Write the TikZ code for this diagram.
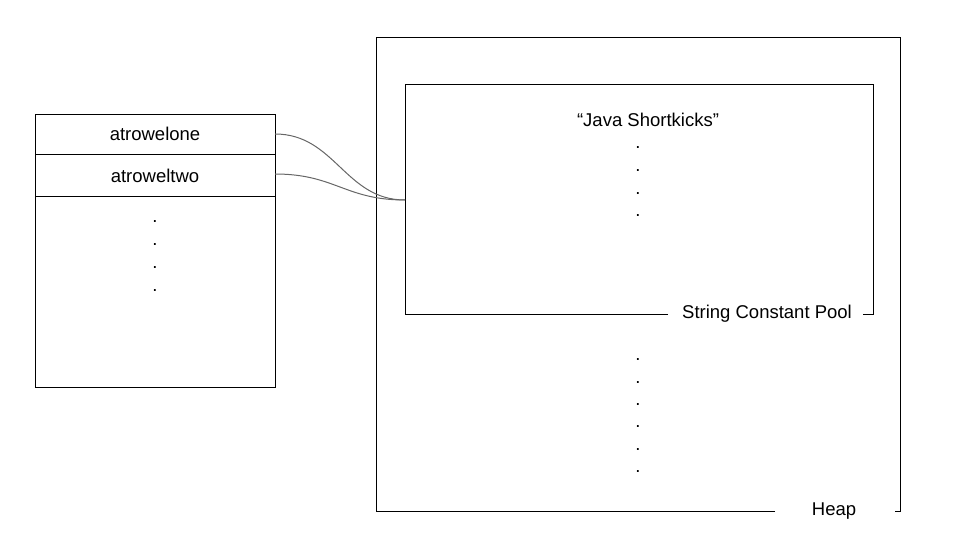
\documentclass[tikz,border=0pt]{standalone}
\usepackage{fontspec}
\setmainfont{Liberation Sans}
\begin{document}
\begin{tikzpicture}[x=1pt,y=-1pt,
  box/.style={draw=black,line width=1pt},
  lbl/.style={font=\fontsize{18.5}{20}\selectfont,inner sep=0pt,anchor=center},
  dot/.style={font=\fontsize{18.5}{20}\selectfont,inner sep=0pt},
  link/.style={draw=black!60,line width=1pt}]
\useasboundingbox (0,0) rectangle (960,540);
% stack
\draw[box] (35,115) rectangle (275,387);
\draw[box] (35,155) -- (275,155);
\draw[box] (35,196) -- (275,196);
\node[lbl] (r1) at (155,134) {atrowelone};
\node[lbl] (r2) at (155,176) {atroweltwo};
\coordinate (r1e) at (275,134);
\coordinate (r2e) at (275,174);
\foreach \y in {220,243,266,289} \node[dot] at (155,\y+2) {.};
% heap
\draw[box] (775,511) -- (376,511) -- (376,38) -- (900,38) -- (900,511) -- (895,511);
\node[lbl] (heap) at (834,511) {Heap};
\foreach \y in {358,381,403,425,448,470} \node[dot] at (638,\y+2) {.};
% pool
\draw[box] (668,314) -- (405,314) -- (405,85) -- (873,85) -- (873,314) -- (863,314);
\node[lbl] (pool) at (767,314) {String Constant Pool};
\node[lbl] (java) at (648,120) {“Java Shortkicks”};
\foreach \y in {146,169,192,214} \node[dot] at (638,\y+2) {.};
\coordinate (pin) at (405,200);
% links
\draw[link] (r1e) .. controls (335,134) and (345,200) .. (pin);
\draw[link] (r2e) .. controls (335,174) and (345,200) .. (pin);
\end{tikzpicture}
\end{document}
